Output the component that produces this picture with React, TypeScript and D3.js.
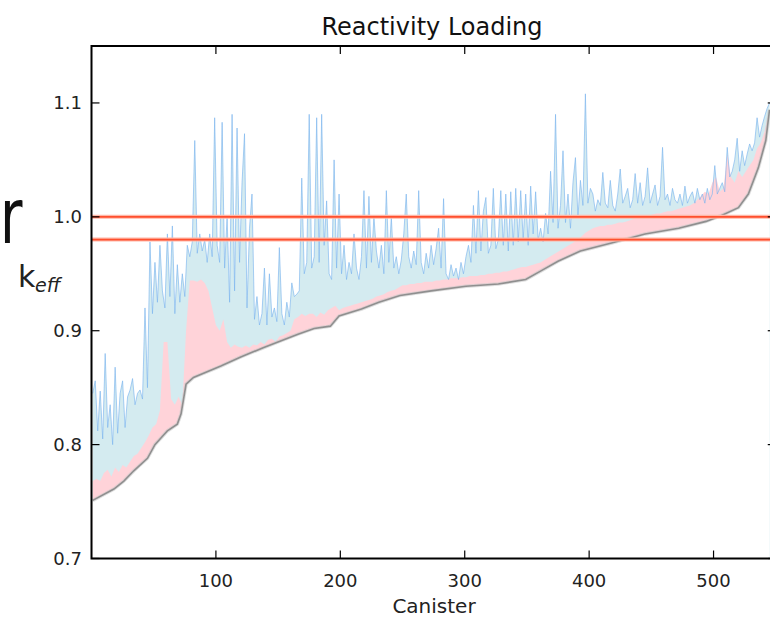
import React from "react";
import * as d3 from "d3";

// Canister index for the spiky upper series (every 2nd canister)
const canisters: number[] = d3.range(1, 546, 2);

// Upper (blue) k_eff per canister, in thousandths
const upperKeff: number[] = [
  845, 856, 812, 847, 805, 880, 815, 835, 800, 868, 810, 845, 856, 815, 842, 848, 858, 835, 845, 848,
  840, 920, 850, 978, 915, 960, 925, 975, 935, 920, 985, 930, 992, 915, 958, 925, 950, 930, 975, 965,
  978, 1067, 968, 985, 970, 980, 960, 985, 965, 1087, 975, 960, 1083, 955, 1000, 925, 1090, 935, 1078, 960,
  1030, 1073, 920, 990, 1020, 910, 930, 905, 915, 955, 905, 950, 912, 920, 908, 973, 915, 905, 925, 912,
  942, 930, 932, 935, 1034, 950, 960, 1090, 955, 965, 1087, 960, 1090, 975, 1014, 950, 945, 1050, 955, 1020,
  950, 975, 945, 960, 950, 985, 955, 945, 965, 1023, 955, 1018, 960, 1000, 970, 955, 975, 950, 1023, 960,
  1000, 955, 965, 950, 962, 985, 1020, 965, 955, 970, 958, 1023, 960, 950, 968, 955, 975, 958, 972, 990,
  955, 1016, 950, 945, 958, 948, 955, 945, 960, 950, 965, 975, 960, 1010, 968, 1023, 970, 1005, 1017, 968,
  975, 1025, 972, 980, 1023, 975, 1020, 970, 1022, 975, 1025, 978, 1023, 980, 1020, 975, 1027, 985, 1022, 980,
  990, 978, 1003, 985, 1040, 995, 1090, 990, 1010, 1058, 995, 1020, 990, 1030, 1052, 1000, 1032, 1010, 1108, 1012,
  1025, 1020, 1005, 1015, 1010, 1039, 1012, 1008, 1032, 1010, 1005, 1020, 1042, 1012, 1018, 1025, 1008, 1015, 1038, 1012,
  1030, 1010, 1018, 1043, 1012, 1020, 1028, 1010, 1018, 1061, 1015, 1020, 1010, 1025, 1015, 1012, 1020, 1010, 1027, 1012,
  1018, 1022, 1012, 1025, 1015, 1020, 1012, 1025, 1015, 1020, 1045, 1020, 1025, 1030, 1022, 1061, 1035, 1040, 1050, 1069,
  1040, 1058, 1045, 1055, 1064, 1058, 1065, 1087, 1070, 1080, 1088, 1095, 1100,
];

// Canister index for the pink band (every 3rd canister)
const pinkCanisters: number[] = d3.range(1, 546, 3);

// Pink band top k_eff per canister, in thousandths
const pinkKeff: number[] = [
  768, 770, 768, 775, 778, 772, 780, 776, 782, 780, 785, 790, 792, 797, 802, 808,
  815, 818, 830, 890, 890, 840, 835, 842, 835, 900, 944, 944, 943, 945, 942, 935, 920, 905, 900, 910,
  890, 885, 888, 886, 885, 887, 885, 888, 887, 890, 888, 892, 893, 890, 895, 896, 898, 900, 910, 912,
  915, 913, 915, 915, 912, 916, 914, 918, 920, 922, 918,
  920, 921, 922, 923, 924, 925, 926, 927, 928, 930, 931, 932, 934, 935, 936, 938,
  940, 940, 941, 941, 942, 942, 943, 943, 943, 944, 944, 945, 945, 946, 946, 946, 947,
  947, 948, 948, 948, 949, 949, 950, 950, 951, 951, 952, 952, 953, 954, 955, 956,
  956, 957, 958, 959, 960, 962, 964, 966, 968, 970, 972, 974, 976, 978, 980,
  983, 986, 988, 990, 991, 992, 992, 993, 993, 994, 995, 995, 996, 997, 998, 999,
  999, 1000, 1001, 1002, 1003, 1003, 1004, 1005, 1005, 1006, 1007, 1008, 1009, 1010, 1012, 1015,
  1018, 1022, 1020, 1030, 1035, 1022, 1025, 1055, 1035, 1030, 1040, 1035, 1040, 1045, 1050, 1060,
  1065, 1075, 1090,
];

// Sorted baseline (gray curve)
const baseCanister: number[] = [
  1, 18, 26, 34, 45, 51, 56, 61, 69, 72, 76, 82, 104, 120, 138, 152, 166, 179, 192, 199,
  217, 231, 248, 273, 301, 327, 349, 362, 375, 393, 418, 445, 472, 494, 506, 520, 528, 536, 542, 545,
];
const baseKeff: number[] = [
  0.751, 0.761, 0.768, 0.777, 0.788, 0.8, 0.806, 0.812, 0.818, 0.827, 0.853, 0.859, 0.869, 0.877,
  0.885, 0.891, 0.897, 0.902, 0.904, 0.913, 0.919, 0.925, 0.931, 0.935, 0.939, 0.941, 0.945, 0.953,
  0.961, 0.97, 0.977, 0.985, 0.99, 0.996, 1.001, 1.008, 1.02, 1.043, 1.067, 1.094,
];

const limitLines: number[] = [1.0, 0.98];
const xTicks: number[] = [100, 200, 300, 400, 500];
const yTicks: number[] = [0.7, 0.8, 0.9, 1.0, 1.1];

const W = 770;
const H = 619;
const L = 91.5;
const R = 775.75;
const T = 46;
const B = 558.5;
const FONT = "DejaVu Sans, sans-serif";

export default function App() {
  const x = d3.scaleLinear().domain([0, 550]).range([L, R]);
  const y = d3.scaleLinear().domain([0.7, 1.15]).range([B, T]);

  const blueArea = d3
    .area<number>()
    .x((_, i) => x(canisters[i]))
    .y0(y(0.7))
    .y1((d) => y(d / 1000));
  const blueLine = d3
    .line<number>()
    .x((_, i) => x(canisters[i]))
    .y((d) => y(d / 1000));
  const pinkArea = d3
    .area<number>()
    .x((_, i) => x(pinkCanisters[i]))
    .y0(y(0.7))
    .y1((d) => y(d / 1000));
  const whiteArea = d3
    .area<number>()
    .x((_, i) => x(baseCanister[i]))
    .y0(y(0.7) + 2)
    .y1((d) => y(d));
  const baseLine = d3
    .line<number>()
    .x((_, i) => x(baseCanister[i]))
    .y((d) => y(d));

  const tickLen = 8;

  return (
    <svg
      width={W}
      height={H}
      style={{ position: "absolute", left: 0, top: 0, background: "#fff" }}
      fontFamily={FONT}
    >
      <defs>
        <clipPath id="plot">
          <rect x={L} y={T} width={R - L} height={B - T} />
        </clipPath>
      </defs>

      {/* neighbouring text at the left edge */}
      <text x={0} y={243} fontSize={76} fill="#111" transform="scale(0.72,1)">
        r
      </text>
      <text x={18} y={287} fontSize={30} fill="#222">
        k
      </text>
      <text x={35} y={292} fontSize={19} fontStyle="italic" fill="#222">
        eff
      </text>

      <g clipPath="url(#plot)">
        <path d={blueArea(upperKeff) || ""} fill="#d4ebf0" />
        <path d={pinkArea(pinkKeff) || ""} fill="#ffd3d9" />
        <path
          d={blueLine(upperKeff) || ""}
          fill="none"
          stroke="#7db5ee"
          strokeOpacity={0.65}
          strokeWidth={1}
        />
        <path d={whiteArea(baseKeff) || ""} fill="#fff" />
        <path
          d={baseLine(baseKeff) || ""}
          fill="none"
          stroke="#c8c8c8"
          strokeWidth={3.5}
          strokeOpacity={0.6}
        />
        <path d={baseLine(baseKeff) || ""} fill="none" stroke="#8f8f8f" strokeWidth={1.6} />
        {limitLines.map((v) => (
          <g key={v}>
            <line x1={L} x2={R} y1={y(v)} y2={y(v)} stroke="#ffb6a6" strokeWidth={4} />
            <line x1={L} x2={R} y1={y(v)} y2={y(v)} stroke="#ff4f2e" strokeWidth={1.6} />
          </g>
        ))}
      </g>

      {/* frame */}
      <rect x={L} y={T} width={R - L} height={B - T} fill="none" stroke="#000" strokeWidth={2} />

      {/* x ticks */}
      {xTicks.map((t) => (
        <g key={"x" + t}>
          <line x1={x(t)} x2={x(t)} y1={B} y2={B - tickLen} stroke="#000" strokeWidth={1.2} />
          <line x1={x(t)} x2={x(t)} y1={T} y2={T + tickLen} stroke="#000" strokeWidth={1.2} />
          <text x={x(t)} y={587} fontSize={18} textAnchor="middle" fill="#222">
            {t}
          </text>
        </g>
      ))}

      {/* y ticks */}
      {yTicks.map((t) => (
        <g key={"y" + t}>
          <line x1={L} x2={L + tickLen} y1={y(t)} y2={y(t)} stroke="#000" strokeWidth={1.2} />
          <line x1={R} x2={R - tickLen} y1={y(t)} y2={y(t)} stroke="#000" strokeWidth={1.2} />
          <text x={82} y={y(t) + 6.5} fontSize={18} textAnchor="end" fill="#222">
            {t.toFixed(1)}
          </text>
        </g>
      ))}

      <text x={432} y={35} fontSize={24} textAnchor="middle" fill="#111">
        Reactivity Loading
      </text>
      <text x={434} y={613} fontSize={20} textAnchor="middle" fill="#222">
        Canister
      </text>
    </svg>
  );
}
